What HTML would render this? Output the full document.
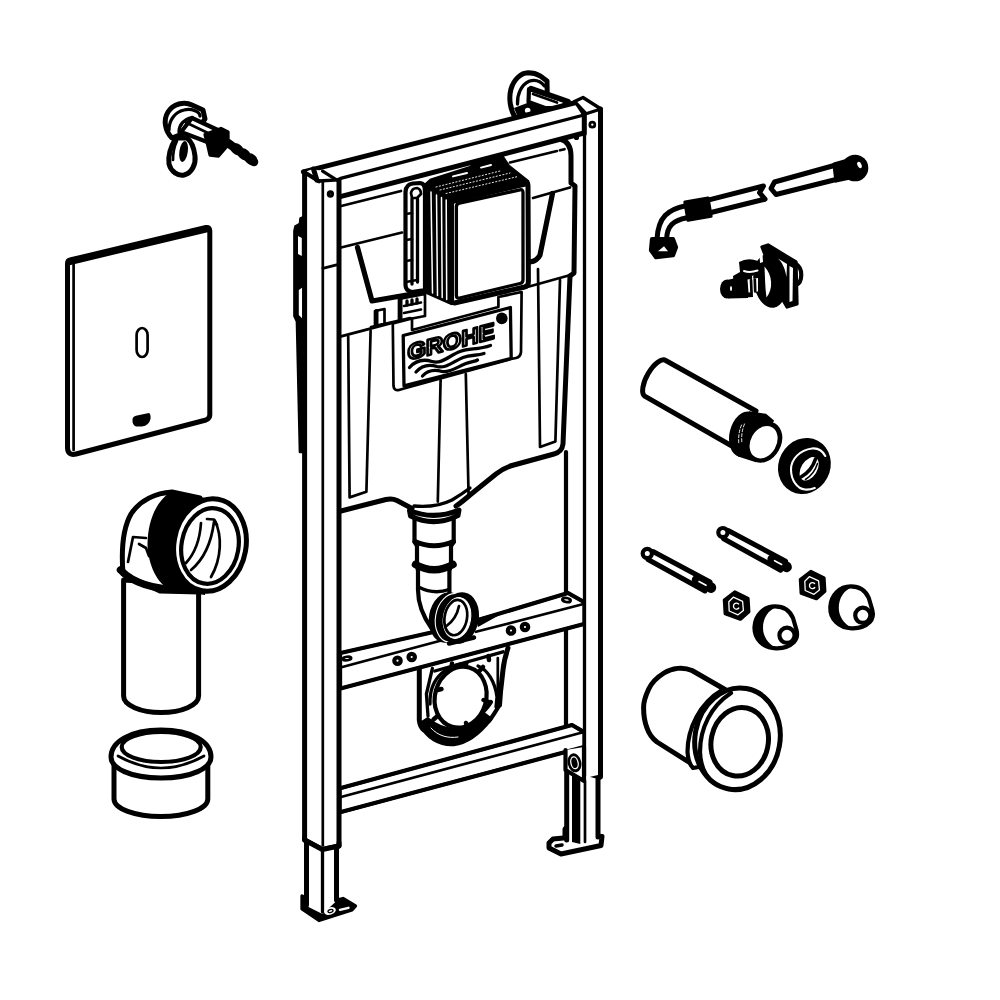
<!DOCTYPE html>
<html><head><meta charset="utf-8"><title>Diagram</title>
<style>
html,body{margin:0;padding:0;background:#fff;width:1000px;height:1000px;overflow:hidden}
svg{display:block;position:absolute;left:0;top:0}
svg *{stroke-linecap:round;stroke-linejoin:round}
.s5{stroke:#000;stroke-width:5;fill:none}
.s4{stroke:#000;stroke-width:4.2;fill:none}
.s3{stroke:#000;stroke-width:3.3;fill:none}
.s2{stroke:#000;stroke-width:2.7;fill:none}
.s1{stroke:#000;stroke-width:1.8;fill:none}
.w{fill:#fff}
.b{fill:#000}
text{font-family:"Liberation Sans",sans-serif}
</style></head><body>
<svg width="1000" height="1000" viewBox="0 0 1000 1000">
<rect x="0" y="0" width="1000" height="1000" fill="#fff" stroke="none"/>

<!-- ================= MAIN FRAME ================= -->
<g id="frame">

<!-- top wall bracket (behind crossbar) -->
<g id="topbracket">
<path class="s5 w" d="M516,119 C510,110 508.5,98 511,89 C514,79 521,73 528,72.8 C533,72.8 537,74 540,75.8 L547,81 L547.2,92 L538,104 Z"/>
<path class="s3" d="M517.5,104 C517,95 521,85 529,81.3 C534,79.5 540,80.5 544.5,86"/>
<path class="b" d="M514,108 L530,102 L548,108 L566,103 L572,108 L520,122 Z"/>
<path class="s4 w" d="M529,89 L568,102 L560,108 L545,108 L528.5,102 Z"/>
<path d="M531,88.5 L568,101.5" stroke="#000" stroke-width="5.5" fill="none"/>
<path class="s2" d="M533,94 L557,102.5"/>
<circle cx="527.7" cy="110.5" r="2.8" fill="#fff"/>
</g>

<!-- left side bracket behind post -->
<g id="leftbracket">
<path class="b s2" d="M304,217 L300.5,218.5 L300,224 L295.5,226.5 L294.5,231 L294.5,316 L297,321.5 L300,452 L305,452 Z"/>
<path d="M298,236 L301.8,238 L301.8,256 L298,254 Z M298.8,290 L302.3,287.5 L302.3,318.5 L298.8,315 Z" fill="#fff"/>
</g>

<!-- cistern body -->
<g id="cistern">
<path class="w" stroke="none" d="M341,206 L556,152 L560,140 C568,141 571,148 571,156 L571,183 L575,186 L574,273 L570,276 L563,447 L558,455 L506,468 L467,498 L456,505 L412,508 L392,498 L341,511 Z"/>
<path class="s5" d="M560,139 C568,141 571,148 571,156 L571,183 L575,186 L574,273 L570,276"/>
<circle class="b" cx="576.5" cy="137.5" r="2.6"/>
<!-- top lines -->
<path class="s2" d="M341.2,206 L401,191"/>
<path class="s2" d="M510,162.5 L557,151 M560,150.3 L564.5,149.2"/>
<path class="s2" d="M341,247.5 L402,232.5 M533,198 L570,187.5"/>
<!-- recesses -->
<path d="M357.5,247.5 L372,301 L424,292" stroke="#000" stroke-width="5.2" fill="none"/>
<path d="M552.5,193.5 L540,255 Q537,261 530,262" stroke="#000" stroke-width="5.2" fill="none"/>
<!-- ledges -->
<path class="s2" d="M341,336.4 L394,322.4"/>
<path class="s2" d="M574,274 L540,283.5 L520,289"/>
<!-- lower ribs -->
<path class="s2" d="M348.2,336.4 L349.6,497.4 L366.4,491.8 L370.6,330.8"/>
<path class="s2" d="M440.6,379.8 L437.8,501.6 M465.8,374 L468.6,496"/>
<path class="s2" d="M538,269 L540,447 L555.4,441.4 L560,280"/>
<path class="s5" d="M570,276 L563,444 Q562,452 554,454 L512,465.5 Q504,468 496,474 L470,495 Q462,502 456,506"/>
<path class="s3" d="M414,506 Q436,508 452,500 Q462,494 470,488"/>
<path class="s5" d="M341,511 L386,499.5 Q392,498 397,500.5 L412,508.5"/>

<!-- small tabs -->
<path class="s2 w" d="M375,311 L384.5,309 L384.5,324 L375,326 Z"/>
<path d="M376.5,311 L376.5,326" stroke="#000" stroke-width="4" fill="none"/>
<path class="s2 w" d="M399,299 L425,294 L425,316 L399,321 Z"/>
<path d="M400.5,299 L400.5,321" stroke="#000" stroke-width="4" fill="none"/>
<path class="s2" d="M404,306 L421,302.5 M404,313 L421,309.5"/>
<path class="s3" d="M407,301 L407,305 M412,300 L412,304 M417,299 L417,303"/>
<!-- line above ledge -->
<path class="s2" d="M371,327 L410,318"/>
<!-- left vertical piece behind box -->
<path class="s4 w" d="M405.5,285 L405.5,192 Q406,184 413,183.5 L420,183 Q425,183.5 425,190 L425,290 L412,292 Q405.5,291 405.5,285 Z"/>
<path class="s3" d="M412,199 L412,284 M417.5,199 L417.5,282"/>
<path class="s2" d="M406,214 L412,213 M406,240 L412,239 M406,261 L412,260 M406,282 L417,280"/>
<path class="s2" d="M411,193 Q412,188 417,188 Q421,189 421,194 L417,198 L412,198 Z"/>
<!-- logo holder -->
<path class="s2 w" d="M392.8,323.5 L412,318.5 L412,330 L498.4,307 L498.4,297 L521.6,292 L521,352 Q520.5,357 516,358 L511,359 L404,388.5 L399,390 Q394,391 393.5,386 Z"/>
<path class="s3 w" d="M403.2,335.5 L510.4,307.5 L511.2,358.4 L404,385.8 Z"/>
<g transform="matrix(1,-0.253,0,1,407.5,360.3)" style="filter:grayscale(1)">
<text x="0" y="0" font-size="22.5" font-weight="bold" textLength="87" lengthAdjust="spacingAndGlyphs" fill="#fff" stroke="#000" stroke-width="2.6">GROHE</text>
</g>
<circle class="b" cx="501.8" cy="318.4" r="5.8"/>
<path class="s3" d="M409.5,367.5 C416,360 424,359 432,361.5 C442,364.5 450,355 460,351.5 C470,348 478,350 490.5,345.5"/>
<path class="s3" d="M416,372 C422,365 429,364 437,366.5 C446,369 454,361 463,357.5 C471,354.5 477,356 484,353.5"/>
<path class="s3" d="M422.5,376 C428,370 435,369.5 442,371.5 C450,373 458,366.5 466,363.5 C471,361.5 475,361.5 477.5,360"/>
<!-- box: top -->
<path class="b s3" d="M424.4,186 L431,180 L470,167.5 L476,163 L502,156.5 L508.4,166 L527.6,181.2 L451.6,199.6 Z"/>
<path d="M453,176.4 L467,173 M481,167.6 L491,165" stroke="#fff" stroke-width="2" fill="none"/>
<path d="M436,187 L500,171 M440,190 L510,173 M446,193.5 L518,176.5" stroke="#fff" stroke-width="0.9" stroke-dasharray="1.2 2.2" fill="none"/>
<!-- box: left ribbed side -->
<path class="b s3" d="M424.4,186 L451.6,199.6 L451.6,303.6 L426.8,292.4 Z"/>
<path d="M431,192 L432.5,293 M436.5,195 L437.5,295.5 M441.5,197.5 L442.2,297.5 M446.2,200 L446.7,299.5" stroke="#fff" stroke-width="1.5" fill="none"/>
<!-- box: front -->
<path class="s5 w" d="M455.5,199 L524,182.2 Q528,181.5 528,185.5 L528.4,282 Q528.4,286 524.5,287 L455.5,302.8 Q451.6,303.6 451.6,299.6 L451.6,203.6 Q451.6,200 455.5,199 Z"/>
<path class="s3" d="M459.5,203.2 L520,189.8 Q523,189.3 523,192.5 L523,280 Q523,282.8 520,283.5 L459.5,298 Q456.4,298.8 456.4,295.6 L456.4,206.8 Q456.4,203.8 459.5,203.2 Z"/>
<path d="M452,201.5 L527.5,183.5" stroke="#000" stroke-width="5" fill="none"/>
</g>

<!-- pipe clamp -->
<g id="clamp">
<path class="s5" d="M419.3,664 L419.3,720 Q420,727 424,730"/>
<path class="s3" d="M432.4,668.4 L426.4,694 L428,716"/>
<path class="s3" d="M434.8,671 L503,651.8"/>
<path class="s5" d="M508,648 Q504,660 503,670 L500.5,692 L499.5,705"/>
<path class="s2" d="M497.8,658 L497.8,697"/>
<path class="b s3" d="M420.4,723.6 C426,738 440,745.5 454,744.5 C468,743 480,733 491,719 L483,713 C476,720 466,726 454,729.6 C442,729 434,724 427.6,718.8 Z"/>
<path class="s4" d="M489,721 C493,716 496,711 499.5,705 M481,714 C485,710 488,707 491,702"/>
<path d="M431,728 C438,736 448,738.5 458,737" stroke="#fff" stroke-width="1" fill="none"/>
<ellipse class="s4 w" cx="460.6" cy="697.2" rx="25.6" ry="30.8" transform="rotate(16 460.6 697.2)"/>
<path class="s3" d="M430,704 C429.5,690 434,680 442,673 C450,666 460,663.5 467,663.6"/>
<path class="s3" d="M478,666 C488,670 495,682 497,697 L496,707"/>
<path d="M451.5,667 L452,663.5 M441.5,689 L437.5,690 M437.5,716 L433.5,719.5 M466,723 L467.5,728 M483.5,700 L489,702 M479,671.5 L483,667 M488.5,656 L489,660" stroke="#000" stroke-width="4.5" fill="none"/>
</g>
<!-- crossbars -->
<g id="crossbars">
<!-- top -->
<path class="w" d="M303.4,171.8 L576,102.5 L584,115 L584,133 L341,196.4 L341,178.4 L322.6,171 Z" stroke="none"/>
<path class="s3" d="M340.6,178.4 L584,115"/>
<path class="s5" d="M303.4,171.8 L576,102.5"/>
<path class="s3" d="M576,102.5 L584,115"/>
<path class="s5" d="M341.2,196.4 L584,133"/>
<!-- middle -->
<path class="s3 w" d="M340.5,653 L433.5,632 L478,620 L568,593 L584,602 L584,624 L340.5,688.5 Z"/>
<path class="s4" d="M340.5,653 L433.5,632 M478,620 L568,593 L584,602"/>
<path class="s2" d="M340.5,667.5 L444,639.7 M476,631.8 L584.5,603.8"/>
<path class="s4" d="M340.5,688.5 L584,624"/>
<path class="b" d="M476,618.5 L508,610.3 L478,627 Z"/>
<g id="midholes">
<circle class="s4" cx="397.5" cy="660.7" r="3.2"/><circle class="s4" cx="411.7" cy="657" r="3.2"/>
<circle class="s4" cx="511" cy="630.5" r="3.2"/><circle class="s4" cx="525" cy="627" r="3.2"/>
<ellipse class="s2" cx="347" cy="658.5" rx="4.2" ry="1.8" transform="rotate(-8 347 658.5)"/>
<ellipse class="s2" cx="566.5" cy="600" rx="4.2" ry="2" transform="rotate(10 566.5 600)"/>
</g>
<!-- bottom -->
<path class="s3 w" d="M340,788.3 L572,725 L584,732 L584,747 L340,812.3 Z"/>
<path class="s4" d="M340,788.3 L572,725 L584,732"/>
<path class="s2" d="M340,797.3 L584,732"/>
<path class="s4" d="M340,812.3 L584,747"/>
</g>

<!-- flush pipe -->
<g id="flushpipe">
<path class="s4 w" d="M414.5,517 L414.5,542 L417,546 L417,565 L418,571 L418,590 C418,606 424,618 432,629 L455,640 L449.4,594 L449.4,571 L451,565 L451,546 L453.7,542 L453.7,517 Z"/>
<path class="s5 w" d="M409.5,510.5 Q434,520.5 459,510 L458,515.5 Q434,527.5 410.5,516 Z"/>
<path d="M415,541.5 Q434,550 453.5,541.5" stroke="#000" stroke-width="5" fill="none"/>
<path d="M415.5,564.5 Q434,575 453,564.5" stroke="#000" stroke-width="7.5" fill="none"/>
<path class="s3" d="M418.5,587 Q434,595 449,589.5"/>
<ellipse class="b" cx="447.5" cy="617.5" rx="18.5" ry="25.5" transform="rotate(10 447.5 617.5)"/>
<ellipse cx="452.5" cy="618" rx="17" ry="24.5" transform="rotate(10 452.5 618)" fill="none" stroke="#fff" stroke-width="1.1"/>
<ellipse class="b" cx="460" cy="618" rx="18.8" ry="26" transform="rotate(10 460 618)"/>
<ellipse cx="457" cy="618" rx="13.6" ry="20.6" transform="rotate(10 457 618)" fill="#fff" stroke="#fff" stroke-width="1"/>
<ellipse class="s2 w" cx="455.8" cy="617.6" rx="11.2" ry="17.8" transform="rotate(10 455.8 617.6)"/>
<path class="s2" d="M446.5,626 C452,622 457,616 459,606"/>
<path d="M449,643.5 L474,637.5" stroke="#000" stroke-width="4.5" fill="none"/>
</g>

<!-- posts -->
<g id="posts">
<!-- left post -->
<path class="w" d="M304.6,172 L313,169 L322.6,171.2 L339,179.8 L339,846 L322.3,849.5 L304.6,840 Z" stroke="none"/>
<path class="s5" d="M304.6,172 L304.6,840 L322.3,849.5 L339,846 L339,180"/>
<path class="s2" d="M322.8,181 L322.8,848"/>
<path class="s5" d="M313.5,169 L316.8,180"/>
<path class="s4" d="M303.6,171.8 L319,181.2"/>
<path class="s3" d="M322.6,171.2 L336.5,179.8"/>
<path class="s3" d="M318,181 L339,179.8"/>
<circle class="s3" cx="330.4" cy="194" r="2"/>
<!-- left leg -->
<path class="b s3" d="M302,896 L302,909 L319,920.5 L352,910 L355.5,906 L343,898.5 L322,903 Z"/>
<path class="w" d="M306.5,845 L306.5,906 L322.5,914 L336.5,901 L336.5,848 Z"/>
<path class="s5" d="M306.5,842 L306.5,905"/>
<path class="s3" d="M322.5,850 L322.5,912"/>
<path class="s5" d="M336.5,847 L336.5,900"/>
<ellipse cx="330" cy="911" rx="6" ry="3.6" transform="rotate(-17 330 911)" fill="#fff"/>
<ellipse cx="330.5" cy="911" rx="2.6" ry="1.5" transform="rotate(-17 330.5 911)" fill="none" stroke="#000" stroke-width="1.3"/>
<path d="M340,909.8 L348.5,907.8" stroke="#fff" stroke-width="2.4" fill="none"/>
<path class="s5" d="M304.6,838 L304.6,840 L322.3,849.5 L339,846 L339,843"/>
<path class="s2" d="M322.8,268.4 L338.5,264.4"/>
<!-- right post -->
<path class="w" d="M584,115 L601,109 L601,777 L584,781 Z" stroke="none"/>
<path class="s5" d="M600.5,109 L600.5,777 L584,781"/>
<path class="s3" d="M584.5,115 L584.5,781"/>
<path class="s5" d="M584.3,114 L584.3,133.5"/>
<path class="s4" d="M566,630 L566,725 M566,452 L566,592"/>
<path class="s3 w" d="M574.5,101.5 L583,97.5 L601,109 L586,113.7 Z"/>
<circle class="s2" cx="592.3" cy="124.7" r="2.5"/>
<!-- right leg -->
<path class="s5 w" d="M553,839 L549,843 L549,848 L561,854 L601,845.5 L602,836.5 L590,835.5 Z"/>
<path d="M556,846 L562,845 M589,839 L594,838.3" stroke="#000" stroke-width="3.5" fill="none"/>
<path class="w" d="M566.7,771 L566.7,842 L584,846 L598,838 L598,779 Z"/>
<path class="s5" d="M566.7,768 L566.7,840"/>
<path class="b" d="M572,772 L580.3,776 L580.3,844 L572,842 Z"/>
<path class="s2" d="M585,781 L585,842"/>
<path class="s5" d="M598,779 L598,837"/>
<path class="b" d="M562.5,829 Q563,826 566,826 L566,840 L562.5,840 Z"/>
<path class="s4 w" d="M565.5,750 L565.5,770 L584,781 L584,747"/>
<ellipse class="b" cx="574.5" cy="762.8" rx="6.8" ry="9.6" transform="rotate(-12 574.5 762.8)"/>
<ellipse cx="574.5" cy="762.8" rx="3.6" ry="6" transform="rotate(-12 574.5 762.8)" fill="none" stroke="#fff" stroke-width="1.3"/>
</g>

</g>

<!-- ================= LEFT PARTS ================= -->
<g id="wallbracket">
<path class="s5 w" d="M172,138 C165,131 163,120 168,112 C173,104 184,101 192,105 L203,110 L205,119 L198,128 L182,134 Z"/>
<path class="s3" d="M169,130 C169,120 175,112 184,110 C192,108 200,112 200,116"/>
<path class="s3" d="M179,132 C179,125 184,119 192,117.5"/>
<path class="s4 w" d="M192,118 L221,131.5 L210,143 L181,132 Z"/>
<path class="s2" d="M186,122.5 L208,133"/>
<path class="b s3" d="M205,134.5 L221,128.5 L228,132 L228,145 L218.5,156 L210,155 L207.5,144 Z"/>
<path d="M228,143 L254,162" stroke="#000" stroke-width="8.5" fill="none"/>
<path d="M236,148.5 L238,150 M243,153.5 L245,155 M250,158.5 L252,160" stroke="#000" stroke-width="10.5" fill="none"/>
<path class="s5 w" d="M176,138 C171,146 168,156 169,164 C171,172 178,176 184,175 C192,173 196,164 195,156 C194,148 191,141 187,138 Z"/>
<ellipse class="b" cx="183.6" cy="151.5" rx="4.2" ry="10.6" transform="rotate(8 183.6 151.5)"/>
<path class="s2" d="M173,160 C173,152 175,145 177,141"/>
</g>

<g id="flushplate">
<path class="w s5" d="M70,260 L206,227.5 Q209.8,227 209.8,231 L209.8,415 Q209.8,418.5 206,420 L76,454 Q68,456 67.5,448 L67.5,264 Q67.5,260.5 70,260 Z"/>
<path d="M69,262 L207,229" stroke="#000" stroke-width="6.5" fill="none"/>
<path class="s2" d="M73.6,264 L73.6,450"/>
<rect class="s2" x="136.6" y="328" width="11" height="29" rx="5.5" ry="7"/>
<path class="b" d="M132.5,419 Q133,416 137,415.5 L149,413 Q151,414 150.5,419 Q149,425.5 142,426.5 L136,426.5 Q132,425 132.5,419 Z"/>
</g>

<g id="outletbend">
<!-- vertical pipe -->
<path class="s5 w" d="M123.6,580 L123.6,696 A37.5,16.5 0 0 0 198.6,696 L198.6,585 Z"/>
<!-- elbow outer -->
<path class="s5 w" d="M123,574 C121,548 123,528 131,514 C140,500 156,493 172,492 L200,498 L200,592 L160,591 Z"/>
<!-- collar on vertical pipe -->
<path d="M120.5,570 C134,584 158,590.5 188,589.5" stroke="#000" stroke-width="7.5" fill="none"/>
<path class="s2" d="M128,562 L133,537 L146,538 M139,544 L146,548 L149,556"/>
<!-- black band -->
<path class="b" d="M172,491 C157,500 147.5,520 147.5,545 C148.5,566 157,583 170,590 L205,595 L215,500 Z"/>
<!-- front ring -->
<ellipse class="s5 w" cx="210" cy="545" rx="36" ry="46.5" transform="rotate(10 210 545)"/>
<ellipse class="s4" cx="210" cy="546" rx="28.5" ry="38" transform="rotate(10 210 546)"/>
<path class="s2" d="M186,563 C196,552 200,538 201,523 M191,570 C203,560 211,545 214,522 M207,519 L214,519.5 L217,525"/>
<path class="s2" d="M215,521 C222,535 222,558 211,577"/>
</g>

<g id="coupling">
<path class="s5 w" d="M114,760 L114,799 A46.9,17.5 0 0 0 207.8,799 L207.8,760 Z"/>
<path class="s5 w" d="M111,757 C111,742 130,730 161,730 C192,730 211,742 211,757 C211,768 192,778 161,778 C130,778 111,768 111,757 Z"/>
<ellipse class="s4 w" cx="161.2" cy="747" rx="39.5" ry="15"/>
<path class="s2" d="M118,756 Q161,780 204,756"/>
</g>

<!-- ================= RIGHT PARTS ================= -->
<g id="hose">
<g transform="translate(0,1.2)">
<!-- left tube -->
<path class="s5" d="M708,199 L763.5,184.8 L759.5,191.5 L765,198 L710,211.5"/>
<path class="b s3" d="M685,201 L708,197 L711,215 L688,219 Z"/>
<path class="s5" d="M686,204.5 C668,208 658,216 657,238 M687,216.5 C673,219 667,225 666.6,238"/>
<path class="b s4" d="M652,238 L673,238 L676,246 L673,254 L656,256 L651,249 Z"/>
<path d="M658,250 L664,245 L668,250 Z" fill="#fff"/>
</g>
<!-- right tube -->
<path class="s5" d="M836,165 L774.5,182 L771,188.5 L776,194.5 L836,179.5"/>
<path class="b s3" d="M834,164 L848,160 L850,178 L836,181 Z"/>
<circle class="b" cx="855" cy="168" r="13.3"/>
<ellipse cx="859.5" cy="165" rx="2" ry="3.4" fill="#fff" transform="rotate(-25 859.5 165)"/>
</g>

<g id="valve">
<path class="b s3" d="M762,247 L768,245 L796,262 L797,304 L787,307 L783,300 Z"/>
<path d="M789.5,266 L793,268 L792.5,301 L789.5,302 Z" fill="#fff"/>
<path class="s4" d="M796,264 C803,268 803,282 796,285"/>
<ellipse class="b" cx="770" cy="281" rx="16.5" ry="27" transform="rotate(-8 770 281)"/>
<path d="M778,258.5 L787,264 L786.5,277 C785,268 782,262 778,258.5 Z" fill="#fff"/>
<path d="M764.5,266.5 C772.5,275 773.5,289 766.5,297.5 C765,288 765,276 764.5,266.5 Z" fill="#fff"/>
<path class="b" d="M739,262 Q748,257 758,261 L759,272 L752,276 L753,297 L735,298 L733,276 L740,272 Z"/>
<ellipse class="b" cx="727" cy="289" rx="7" ry="9.5"/>
<path class="b" d="M727,280 L745,276 L748,298 L728,298.5 Z"/>
<path d="M747.5,279.5 L758,278 L758,291.5 L748.5,292.5 Z" fill="#fff"/>
<path class="s2" d="M751,280 L751.5,292 M754.8,279.5 L755.2,291.5"/>
<path d="M744,271 Q750,273 757.5,270.5" stroke="#fff" stroke-width="2" fill="none"/>
<path d="M759.5,256 L762.5,254 L763,262 L760,263 Z" fill="#fff"/>
<ellipse cx="731" cy="288.5" rx="1" ry="2.6" fill="#fff"/>
</g>

<g id="connpipe">
<path class="s5 w" d="M665.7,360.5 L756,411 L731,445.5 L644.7,396.2 A8.5,20.7 29.3 0 1 665.7,360.5 Z"/>
<ellipse class="b" cx="744.6" cy="434.2" rx="15" ry="23.2" transform="rotate(14 744.6 434.2)"/>
<path class="b" d="M749,411.3 L766,413.8 L774,420.5 L756,462.3 L738,456.5 Z"/>
<ellipse class="b" cx="764.4" cy="442.2" rx="16.6" ry="21.6" transform="rotate(29.3 764.4 442.2)"/>
<ellipse cx="763.6" cy="442.2" rx="12.9" ry="17.1" fill="#fff" transform="rotate(29.3 763.6 442.2)"/>
<path d="M741.5,425 C739,431 738.3,437 738.8,443 M744.5,424 C742,430 741.3,436 741.8,442" stroke="#fff" stroke-width="0.9" fill="none" stroke-dasharray="3 2"/>
</g>

<g id="seal">
<ellipse class="b" cx="804.4" cy="466" rx="25.8" ry="28.6" transform="rotate(28 804.4 466)"/>
<path d="M825.3,456 C822,450 817,448 812,448.5 C800,450 791,459 791,469.5 C791,480 797,488.5 805,489.5 C808,490 812,489 814.8,488" stroke="#fff" stroke-width="2.1" fill="none"/>
<ellipse cx="809.2" cy="468.8" rx="8" ry="12.8" fill="#fff" transform="rotate(32 809.2 468.8)"/>
<path d="M801,477 C808,473 813,467 815.5,459" stroke="#000" stroke-width="3.6" fill="none"/>
<path d="M805.5,479.5 C811,476 815.5,470 817.5,463.5" stroke="#000" stroke-width="1.5" fill="none"/>
</g>

<g id="bolts">
<g id="bolt1">
<path class="s5" d="M653,551.5 L710,582 M648,559.5 L705,591"/>
<circle class="s4 w" cx="647.3" cy="553.4" r="4.6"/>
<path d="M697,580 L711,587.7" stroke="#000" stroke-width="10.5" fill="none"/>
<path d="M699,581.5 L706,585.3" stroke="#fff" stroke-width="1.6" fill="none"/>
</g>
<use href="#bolt1" x="75.6" y="-20.8"/>
<g id="nut1">
<path class="b s3" d="M734.8,592 L748,598.5 L748.8,611.8 L740.4,619.2 L725.2,613.6 L724.4,600 Z"/>
<path d="M733.3,597.2 L742.6,601.4 L743.4,610.6 L738,614.8 L729.2,611 L728.8,601.8 Z" fill="none" stroke="#fff" stroke-width="1.3"/>
<path d="M738.6,604 A3,3 0 1 0 738.8,608" fill="none" stroke="#fff" stroke-width="1.3"/>
</g>
<use href="#nut1" x="76" y="-20.5"/>
<g id="cap1">
<path class="s4 w" d="M775,606.3 C764,606.3 755,615 754.5,627 C754,639 763,648 776,648.3 C783,648.5 790,646 794,642 C797,639 797.5,634 796.5,630 L793,618 C790,611 784,606.3 775,606.3 Z"/>
<path class="b" d="M775,606.3 C764,606.3 755,615 754.5,627 C754,639 763,648 776,648.3 C767.5,643 763,636 763,628 C763,618 768,610 777,607 Z"/>
<circle class="s4 w" cx="787" cy="635.3" r="7.6"/>
</g>
<use href="#cap1" x="75.8" y="-20"/>
</g>

<g id="sleeve">
<path class="s5 w" d="M725,689.5 L692,670.5 C683,666.5 672,668 664,673 C656,678 651,684 648.7,689 C645,697 643.4,703 643.6,708 C643.6,716 645,723 647,728 C649,734 653,739 657,742 L692,764 L735,700 Z"/>
<path class="s4 w" d="M722,690 C700,703 687.5,728 687.5,752 C688,760 690,765 693,768 L740,760 L740,700 Z"/>
<ellipse class="s5 w" cx="737.5" cy="738.8" rx="42.5" ry="51" transform="rotate(10 737.5 738.8)"/>
<path class="s4" d="M731,693 C711,706 700,728 700,752 C700.5,766 706,777 714,783"/>
<ellipse class="s5 w" cx="739.7" cy="741.8" rx="28.5" ry="34.5" transform="rotate(12 739.7 741.8)"/>
</g>
</svg>
</body></html>
